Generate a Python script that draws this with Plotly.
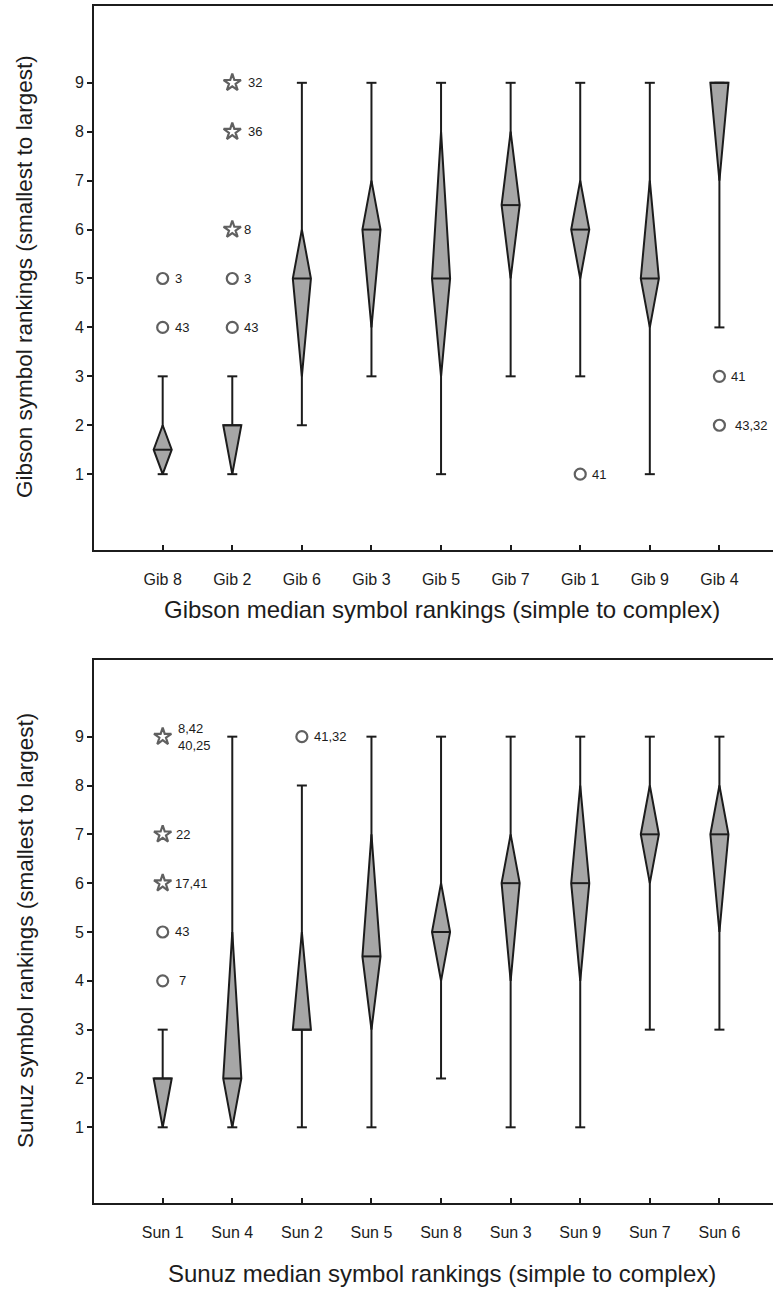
import plotly.graph_objects as go

# ---------------- data ----------------
gib_cats = ["Gib 8", "Gib 2", "Gib 6", "Gib 3", "Gib 5", "Gib 7", "Gib 1", "Gib 9", "Gib 4"]
gib_low = [1, 1, 2, 3, 1, 3, 3, 1, 4]
gib_q1 = [1, 1, 3, 4, 3, 5, 5, 4, 7]
gib_med = [1.5, 2, 5, 6, 5, 6.5, 6, 5, 9]
gib_q3 = [2, 2, 6, 7, 8, 8, 7, 7, 9]
gib_high = [3, 3, 9, 9, 9, 9, 9, 9, 9]
gib_out_cat = ["Gib 8", "Gib 8", "Gib 2", "Gib 2", "Gib 2", "Gib 2", "Gib 2", "Gib 1", "Gib 4", "Gib 4"]
gib_out_val = [5, 4, 9, 8, 6, 5, 4, 1, 3, 2]
gib_out_kind = ["circle", "circle", "star", "star", "star", "circle", "circle", "circle", "circle", "circle"]
gib_out_lab = ["3", "43", "32", "36", "8", "3", "43", "41", "41", "43,32"]

sun_cats = ["Sun 1", "Sun 4", "Sun 2", "Sun 5", "Sun 8", "Sun 3", "Sun 9", "Sun 7", "Sun 6"]
sun_low = [1, 1, 1, 1, 2, 1, 1, 3, 3]
sun_q1 = [1, 1, 3, 3, 4, 4, 4, 6, 5]
sun_med = [2, 2, 3, 4.5, 5, 6, 6, 7, 7]
sun_q3 = [2, 5, 5, 7, 6, 7, 8, 8, 8]
sun_high = [3, 9, 8, 9, 9, 9, 9, 9, 9]
sun_out_cat = ["Sun 1", "Sun 1", "Sun 1", "Sun 1", "Sun 1", "Sun 2"]
sun_out_val = [9, 7, 6, 5, 4, 9]
sun_out_kind = ["star", "star", "star", "circle", "circle", "circle"]
sun_out_lab = ["8,42<br>40,25", "22", "17,41", "43", "7", "41,32"]

y_ticks = [1, 2, 3, 4, 5, 6, 7, 8, 9]

# ---------------- style ----------------
gib_lab_gap = [10, 10, 14, 14, 10, 10, 10, 10, 10, 14]
sun_lab_gap = [13, 11, 10, 10, 14, 10]
FONT = "Liberation Sans, Arial, Helvetica, sans-serif"
INK = "#1c1c1c"
FILL = "#a6a6a6"
HALF_W = 0.13
CAP_W = 0.072
W, H = 773, 1291
L = 94

fig = go.Figure()


def add_panel(cats, low, q1, med, q3, high, out_cat, out_val, out_kind, out_lab, gaps, xa, ya):
    xs = list(range(len(cats)))
    # whiskers + caps
    wx, wy = [], []
    for i, lo, hi in zip(xs, low, high):
        wx += [i, i, None, i - CAP_W, i + CAP_W, None, i - CAP_W, i + CAP_W, None]
        wy += [lo, hi, None, lo, lo, None, hi, hi, None]
    fig.add_trace(go.Scatter(x=wx, y=wy, mode="lines", xaxis=xa, yaxis=ya,
                             line=dict(color=INK, width=2), hoverinfo="skip", showlegend=False))
    # diamonds
    for i, a, m, b in zip(xs, q1, med, q3):
        fig.add_trace(go.Scatter(x=[i, i + HALF_W, i, i - HALF_W, i], y=[b, m, a, m, b],
                                 mode="lines", fill="toself", fillcolor=FILL, xaxis=xa, yaxis=ya,
                                 line=dict(color=INK, width=2), showlegend=False, name=cats[i]))
        fig.add_trace(go.Scatter(x=[i - HALF_W, i + HALF_W], y=[m, m], mode="lines",
                                 xaxis=xa, yaxis=ya, line=dict(color=INK, width=2),
                                 hoverinfo="skip", showlegend=False))
    # outliers
    ox = [cats.index(c) for c in out_cat]
    syms = ["circle-open" if k == "circle" else "star-open" for k in out_kind]
    sizes = [11 if k == "circle" else 13 for k in out_kind]
    fig.add_trace(go.Scatter(x=ox, y=out_val, mode="markers", xaxis=xa, yaxis=ya,
                             marker=dict(symbol=syms, size=sizes, color=INK,
                                         line=dict(color=INK, width=2.2)),
                             text=out_lab, showlegend=False))
    for x, y, t, g in zip(ox, out_val, out_lab, gaps):
        fig.add_annotation(x=x, y=y, xref=xa, yref=ya, text=t, showarrow=False,
                           xanchor="left", yanchor="middle", xshift=g, align="left",
                           font=dict(family=FONT, size=13, color=INK))


add_panel(gib_cats, gib_low, gib_q1, gib_med, gib_q3, gib_high,
          gib_out_cat, gib_out_val, gib_out_kind, gib_out_lab, gib_lab_gap, "x", "y")
add_panel(sun_cats, sun_low, sun_q1, sun_med, sun_q3, sun_high,
          sun_out_cat, sun_out_val, sun_out_kind, sun_out_lab, sun_lab_gap, "x2", "y2")

xrange = [-0.987, 8.77]
yrange = [-0.55, 10.57]


def xax(cats):
    return dict(range=xrange, tickvals=list(range(len(cats))), ticktext=cats,
                showline=True, linecolor=INK, linewidth=2, mirror=True,
                ticks="inside", ticklen=5, tickwidth=1.5, tickcolor=INK,
                ticklabelstandoff=14,
                showgrid=False, zeroline=False,
                tickfont=dict(family=FONT, size=16, color=INK))


def yax():
    return dict(range=yrange, tickvals=y_ticks, showline=True, linecolor=INK, linewidth=2,
                ticks="outside", ticklen=5, tickwidth=1.5, tickcolor=INK,
                showgrid=False, zeroline=False,
                tickfont=dict(family=FONT, size=16, color=INK))


top_dom = [1 - 550 / H, 1 - 6 / H]
bot_dom = [1 - 1203 / H, 1 - 660 / H]

fig.update_layout(
    width=W, height=H, margin=dict(l=L, r=0, t=0, b=0),
    paper_bgcolor="white", plot_bgcolor="white",
    xaxis=dict(**xax(gib_cats), domain=[0, 1], anchor="y"),
    yaxis=dict(**yax(), domain=top_dom, anchor="x"),
    xaxis2=dict(**xax(sun_cats), domain=[0, 1], anchor="y2"),
    yaxis2=dict(**yax(), domain=bot_dom, anchor="x2"),
    showlegend=False,
)

PW = W - L


def px(xp):
    return (xp - L) / PW


def py(yp):
    return 1 - yp / H


xtitle_font = dict(family=FONT, size=24, color=INK)
ytitle_font = dict(family=FONT, size=22.5, color=INK)
fig.add_annotation(text="Gibson median symbol rankings (simple to complex)", xref="paper", yref="paper",
                   x=px(442), y=py(609), showarrow=False, xanchor="center", yanchor="middle", font=xtitle_font)
fig.add_annotation(text="Sunuz median symbol rankings (simple to complex)", xref="paper", yref="paper",
                   x=px(442), y=py(1273), showarrow=False, xanchor="center", yanchor="middle", font=xtitle_font)
fig.add_annotation(text="Gibson symbol rankings (smallest to largest)", xref="paper", yref="paper",
                   x=px(25), y=py(277), showarrow=False, textangle=-90,
                   xanchor="center", yanchor="middle", font=ytitle_font)
fig.add_annotation(text="Sunuz symbol rankings (smallest to largest)", xref="paper", yref="paper",
                   x=px(25), y=py(931), showarrow=False, textangle=-90,
                   xanchor="center", yanchor="middle", font=ytitle_font)

fig.write_html("out.html")
